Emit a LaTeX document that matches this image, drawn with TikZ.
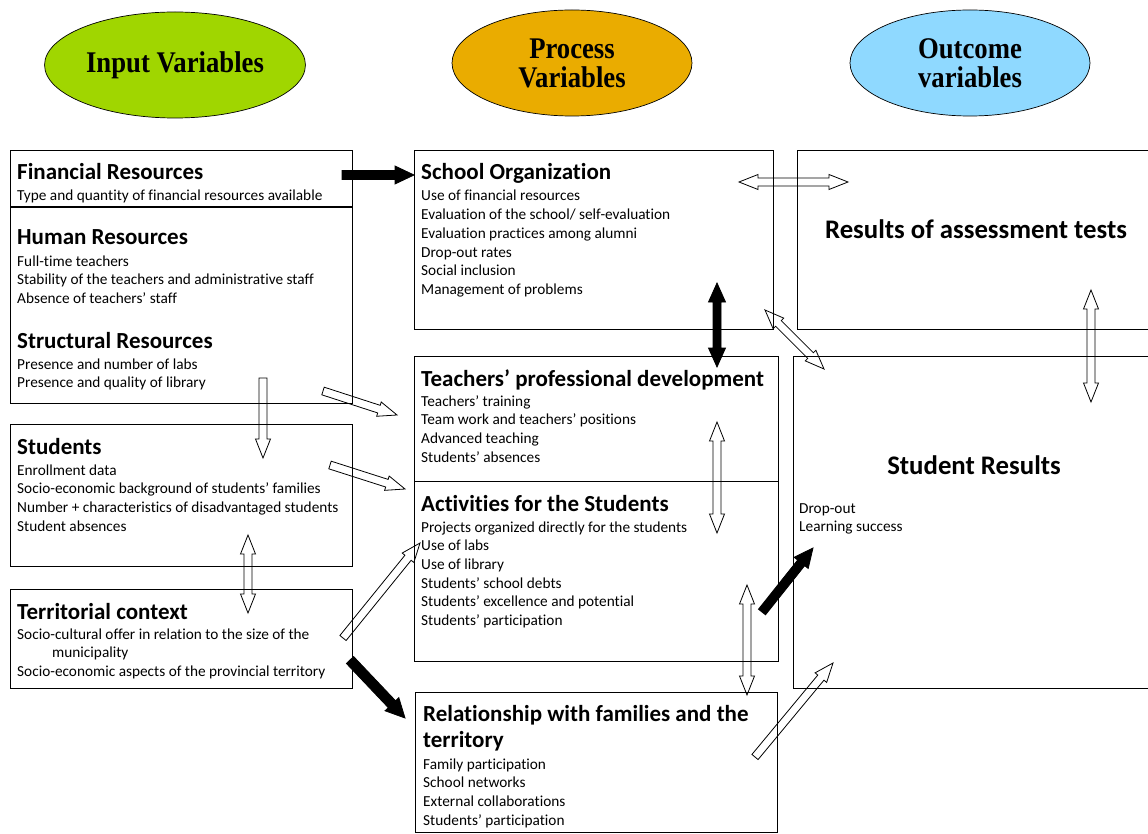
\documentclass[tikz,border=0pt]{standalone}
\usepackage{fontspec}
\setmainfont{Carlito}[Ligatures=NoCommon]
\newfontfamily\ellfont[FakeStretch=0.89]{Liberation Serif}
\usetikzlibrary{shapes.geometric,calc}

\definecolor{inputgreen}{RGB}{160,214,0}
\definecolor{processgold}{RGB}{234,172,0}
\definecolor{outcomeblue}{RGB}{143,217,255}

% stacked lines, baseline on the first one
\newcommand{\lines}[1]{\begin{tabular}[t]{@{}l@{}}#1\end{tabular}}

% block arrows: #1 style, #2 tail, #3 tip, #4 half shaft, #5 half head
\newcommand{\onearrow}[5]{%
  \path ($(#3)!19pt!(#2)$) coordinate (neck);
  \draw[#1] ($(#2)!#4!90:(#3)$) -- ($(neck)!#4!90:(#3)$) -- ($(neck)!#5!90:(#3)$) -- (#3)
    -- ($(neck)!#5!-90:(#3)$) -- ($(neck)!#4!-90:(#3)$) -- ($(#2)!#4!-90:(#3)$) -- cycle;
}
\newcommand{\twoarrow}[5]{%
  \path ($(#3)!19pt!(#2)$) coordinate (neck) ($(#2)!19pt!(#3)$) coordinate (nock);
  \draw[#1] (#2) -- ($(nock)!#5!90:(#3)$) -- ($(nock)!#4!90:(#3)$) -- ($(neck)!#4!90:(#3)$)
    -- ($(neck)!#5!90:(#3)$) -- (#3) -- ($(neck)!#5!-90:(#3)$) -- ($(neck)!#4!-90:(#3)$)
    -- ($(nock)!#4!-90:(#3)$) -- ($(nock)!#5!-90:(#3)$) -- cycle;
}

\tikzset{
  box/.style={draw, line width=1.1pt, anchor=north west, inner sep=0pt},
  oval/.style={ellipse, draw, line width=0.7pt, minimum width=240pt, minimum height=106pt,
    align=center, font=\ellfont\bfseries\fontsize{30}{29}\selectfont},
  title/.style={anchor=base west, inner sep=0pt, font=\fontsize{23}{26.5}\selectfont\bfseries},
  bigtitle/.style={anchor=base, inner sep=0pt, font=\fontsize{26.8}{30}\selectfont\bfseries},
  body/.style={anchor=base west, inner sep=0pt, font=\fontsize{15.3}{18.7}\selectfont},
  hollow/.style={line width=0.8pt, line join=miter},
  solid/.style={fill=black, line width=0.8pt, line join=miter}
}

\begin{document}
\begin{tikzpicture}[x=1pt,y=-1pt]
\useasboundingbox (0,0) rectangle (1148,834);

% headings
\node[oval, fill=inputgreen] (inputvar) at (175,65) {Input Variables};
\node[oval, fill=processgold] (processvar) at (572,63) {Process\\Variables};
\node[oval, fill=outcomeblue] (outcomevar) at (970,63) {Outcome\\variables};

% input column
\node[box, minimum width=342pt, minimum height=253pt] (resources) at (10,150) {};
\draw[line width=1.1pt] ($(resources.north west)+(0,57)$) -- ($(resources.north east)+(0,57)$);
\node[title] (fintitle) at (17,180) {Financial Resources};
\node[body] (finbody) at (17,201) {Type and quantity of financial resources available};
\node[title] (humtitle) at (17,245) {Human Resources};
\node[body] (humbody) at (17,266) {\lines{Full-time teachers\\Stability of the teachers and administrative staff\\Absence of teachers’ staff}};
\node[title] (strtitle) at (17,348) {Structural Resources};
\node[body] (strbody) at (17,369) {\lines{Presence and number of labs\\Presence and quality of library}};

\node[box, minimum width=342pt, minimum height=142pt] (students) at (10,424) {};
\node[title] (stutitle) at (17,454) {Students};
\node[body] (stubody) at (17,475) {\lines{Enrollment data\\Socio-economic background of students’ families\\Number + characteristics of disadvantaged students\\Student absences}};

\node[box, minimum width=342pt, minimum height=99pt] (territory) at (10,589) {};
\node[title] (tertitle) at (17,619) {Territorial context};
\node[body] (terbody) at (17,639) {\lines{Socio-cultural offer in relation to the size of the\\\hspace*{35pt}municipality\\Socio-economic aspects of the provincial territory}};

% process column
\node[box, minimum width=359pt, minimum height=179pt] (schoolorg) at (414,150) {};
\node[title] (orgtitle) at (421,180) {School Organization};
\node[body] (orgbody) at (421,201) {\lines{Use of financial resources\\Evaluation of the school/ self-evaluation\\Evaluation practices among alumni\\Drop-out rates\\Social inclusion\\Management of problems}};

\node[box, minimum width=364pt, minimum height=125pt] (teachers) at (414,356) {};
\node[title] (teatitle) at (421,386) {Teachers’ professional development};
\node[body] (teabody) at (421,406) {\lines{Teachers’ training\\Team work and teachers’ positions\\Advanced teaching\\Students’ absences}};

\node[box, minimum width=364pt, minimum height=180pt] (activities) at (414,481) {};
\node[title] (acttitle) at (421,511) {Activities for the Students};
\node[body] (actbody) at (421,532) {\lines{Projects organized directly for the students\\Use of labs\\Use of library\\Students’ school debts\\Students’ excellence and potential\\Students’ participation}};

\node[box, minimum width=362pt, minimum height=140pt] (families) at (415,692) {};
\node[title] (famtitle) at (423,721) {\lines{Relationship with families and the\\territory}};
\node[body] (fambody) at (423,769) {\lines{Family participation\\School networks\\External collaborations\\Students’ participation}};

% outcome column
\node[box, minimum width=363pt, minimum height=179pt] (assessment) at (797,150) {};
\node[bigtitle] (asstitle) at (976,239) {Results of assessment tests};

\node[box, minimum width=367pt, minimum height=332pt] (results) at (793,356) {};
\node[bigtitle] (restitle) at (974,474) {Student Results};
\node[body] (resbody) at (799,513) {\lines{Drop-out\\Learning success}};

% arrow ends
\coordinate (finout) at (342,175);
\coordinate (orgin) at (414,175);
\coordinate (terout) at (350,660);
\coordinate (famin) at (405,718);
\coordinate (actout) at (762,612);
\coordinate (resin) at (813,548);
\coordinate (orgdown) at (717,283);
\coordinate (teaup) at (717,367);
\coordinate (strout) at (263,378);
\coordinate (stuin) at (263,458);
\coordinate (strside) at (323,391);
\coordinate (teain) at (397,415);
\coordinate (stuout) at (330,465);
\coordinate (actin) at (405,489);
\coordinate (terup) at (343,638);
\coordinate (labsin) at (420,543);
\coordinate (famout) at (755,757);
\coordinate (resbot) at (833,663);
\coordinate (orgright) at (739,182);
\coordinate (assleft) at (848,182);
\coordinate (orgcorner) at (765,310);
\coordinate (rescorner) at (824,369);
\coordinate (asslow) at (1091,290);
\coordinate (restop) at (1091,402);
\coordinate (stulow) at (248,535);
\coordinate (tertop) at (248,613);
\coordinate (teamid) at (717,422);
\coordinate (actmid) at (717,533);
\coordinate (actlow) at (747,585);
\coordinate (famtop) at (747,695);

% black arrows
\onearrow{solid}{finout}{orgin}{4.5pt}{9pt}
\onearrow{solid}{terout}{famin}{5pt}{9.5pt}
\onearrow{solid}{actout}{resin}{4.5pt}{9pt}
\twoarrow{solid}{orgdown}{teaup}{4pt}{8.5pt}

% hollow arrows
\onearrow{hollow}{strout}{stuin}{4pt}{7.5pt}
\onearrow{hollow}{strside}{teain}{4pt}{7.5pt}
\onearrow{hollow}{stuout}{actin}{4pt}{7.5pt}
\onearrow{hollow}{terup}{labsin}{4pt}{7.5pt}
\onearrow{hollow}{famout}{resbot}{4pt}{7.5pt}
\twoarrow{hollow}{orgright}{assleft}{4pt}{7.5pt}
\twoarrow{hollow}{orgcorner}{rescorner}{4pt}{7.5pt}
\twoarrow{hollow}{asslow}{restop}{4pt}{7.5pt}
\twoarrow{hollow}{stulow}{tertop}{4pt}{7.5pt}
\twoarrow{hollow}{teamid}{actmid}{4pt}{7.5pt}
\twoarrow{hollow}{actlow}{famtop}{4pt}{7.5pt}
\end{tikzpicture}
\end{document}
